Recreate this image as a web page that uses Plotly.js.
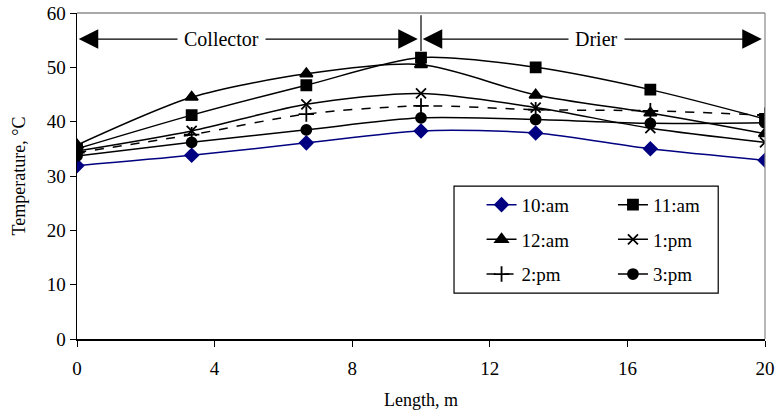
<!DOCTYPE html>
<html>
<head>
<meta charset="utf-8">
<script src="https://cdn.plot.ly/plotly-3.0.1.min.js"></script>
<style>html,body{margin:0;padding:0;background:#fff;}#chart{width:777px;height:416px;}</style>
</head>
<body>
<div id="chart"></div>
<script>
const lengthM = [0, 3.333, 6.667, 10, 13.333, 16.667, 20];
const seriesNames = ["10:am", "11:am", "12:am", "1:pm", "2:pm", "3:pm"];
const t10am = [31.9, 33.8, 36.1, 38.3, 37.9, 35.0, 32.9];
const t11am = [35.0, 41.2, 46.7, 51.8, 50.0, 45.9, 40.5];
const t12am = [35.7, 44.5, 48.8, 50.5, 44.9, 41.6, 37.8];
const t1pm  = [34.6, 38.3, 43.2, 45.2, 42.6, 38.8, 36.2];
const t2pm  = [34.3, 37.6, 41.4, 42.9, 42.2, 42.0, 41.2];
const t3pm  = [33.7, 36.2, 38.5, 40.7, 40.4, 39.7, 39.8];
const sectionLabels = ["Collector", "Drier"];
const xTicks = [0, 4, 8, 12, 16, 20];
const yTicks = [0, 10, 20, 30, 40, 50, 60];

const FONT = "Liberation Serif";
const styles = [
  {color: "#000080", symbol: "diamond", size: 10, dash: "solid", leg: "legend"},
  {color: "#000000", symbol: "square", size: 10, dash: "solid", leg: "legend2"},
  {color: "#000000", symbol: "triangle-up", size: 11, dash: "solid", leg: "legend"},
  {color: "#000000", symbol: "x-thin-open", size: 10, dash: "solid", leg: "legend2"},
  {color: "#000000", symbol: "cross-thin-open", size: 11, dash: "dash", leg: "legend"},
  {color: "#000000", symbol: "circle", size: 10, dash: "solid", leg: "legend2"}
];
const allSeries = [t10am, t11am, t12am, t1pm, t2pm, t3pm];

const traces = allSeries.map((ys, i) => ({
  x: lengthM, y: ys, name: seriesNames[i], type: "scatter", mode: "lines+markers",
  legend: styles[i].leg, legendgroup: "g" + i,
  line: {color: styles[i].color, width: 1.5, dash: styles[i].dash, shape: "spline", smoothing: 0.8},
  marker: {symbol: styles[i].symbol, size: styles[i].size, color: styles[i].color,
           line: {color: styles[i].color, width: 1.8}}
}));

const legBase = {orientation: "v", y: 0.470, yanchor: "top", xanchor: "left",
                 bgcolor: "rgba(0,0,0,0)", borderwidth: 0, tracegroupgap: 7,
                 font: {family: FONT, size: 19, color: "#000"}, traceorder: "grouped"};
const arrowY = 55.2;
const layout = {
  width: 777, height: 416,
  margin: {l: 77, r: 12, t: 13, b: 77},
  paper_bgcolor: "#fff", plot_bgcolor: "#fff",
  font: {family: FONT, size: 16, color: "#000"},
  showlegend: true,
  legend: Object.assign({}, legBase, {x: 0.588}),
  legend2: Object.assign({}, legBase, {x: 0.779}),
  xaxis: {range: [0, 20], tickvals: xTicks, ticktext: xTicks.map(String),
          showgrid: false, zeroline: false, showline: true, linecolor: "#000", linewidth: 1.5,
          ticks: "outside", ticklen: 6, tickcolor: "#000", tickfont: {family: FONT, size: 19}, ticklabelstandoff: 6,
          title: {text: "Length, m", font: {family: FONT, size: 18}, standoff: 15}},
  yaxis: {range: [0, 60], tickvals: yTicks, ticktext: yTicks.map(String),
          showgrid: false, zeroline: false, showline: true, linecolor: "#000", linewidth: 1.5,
          ticks: "outside", ticklen: 6, tickcolor: "#000", tickfont: {family: FONT, size: 19},
          title: {text: "Temperature, °C", font: {family: FONT, size: 18}, standoff: 16}},
  shapes: [
    {type: "line", xref: "paper", yref: "paper", x0: 0, x1: 1, y0: 1, y1: 1, line: {color: "#555", width: 1.2}},
    {type: "line", xref: "paper", yref: "paper", x0: 1, x1: 1, y0: 0, y1: 1, line: {color: "#888", width: 1.2}},
    {type: "line", xref: "x", yref: "y", x0: 10, x1: 10, y0: 53.0, y1: 59.6, line: {color: "#000", width: 1.2}},
    {type: "rect", xref: "paper", yref: "paper", x0: 0.548, x1: 0.932, y0: 0.141, y1: 0.469,
     line: {color: "#000", width: 1.2}, fillcolor: "rgba(0,0,0,0)", layer: "above"}
  ],
  annotations: [
    {x: 0.05, y: arrowY, ax: 9.95, ay: arrowY, xref: "x", yref: "y", axref: "x", ayref: "y",
     text: "", showarrow: true, arrowhead: 2, startarrowhead: 2, arrowside: "end+start",
     arrowsize: 3, startarrowsize: 3, arrowwidth: 1.3, arrowcolor: "#000"},
    {x: 10.05, y: arrowY, ax: 19.95, ay: arrowY, xref: "x", yref: "y", axref: "x", ayref: "y",
     text: "", showarrow: true, arrowhead: 2, startarrowhead: 2, arrowside: "end+start",
     arrowsize: 3, startarrowsize: 3, arrowwidth: 1.3, arrowcolor: "#000"},
    {x: 4.2, y: arrowY, xref: "x", yref: "y", text: sectionLabels[0], showarrow: false,
     bgcolor: "#fff", font: {family: FONT, size: 20}, borderpad: 6},
    {x: 15.1, y: arrowY, xref: "x", yref: "y", text: sectionLabels[1], showarrow: false,
     bgcolor: "#fff", font: {family: FONT, size: 20}, borderpad: 6}
  ]
};
Plotly.newPlot("chart", traces, layout, {displayModeBar: false, staticPlot: true});
</script>
</body>
</html>
